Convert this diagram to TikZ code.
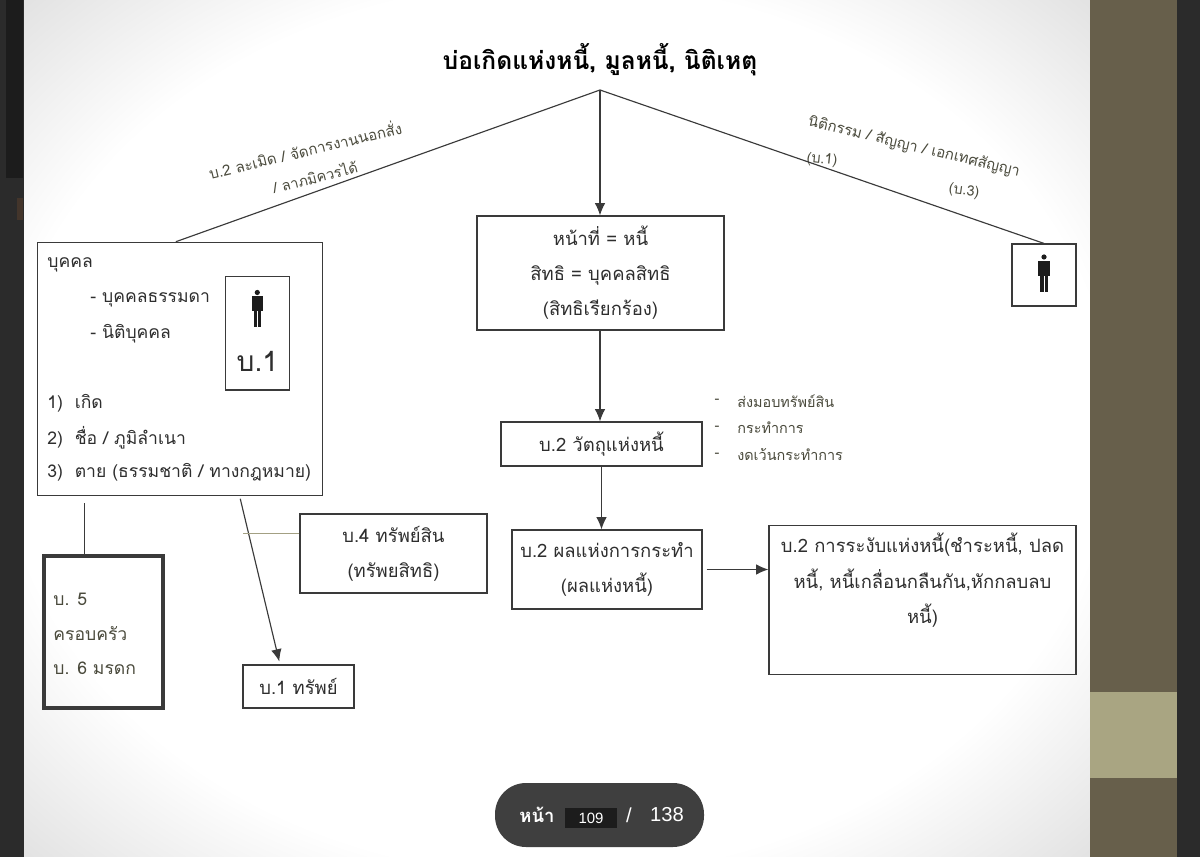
\documentclass[tikz,border=0pt]{standalone}
\usepackage{fontspec}
\setmainfont[Script=Thai]{Loma}
\newfontfamily\uifont{Liberation Sans}
\usetikzlibrary{positioning, arrows.meta}

\definecolor{inkc}{HTML}{2E2E2E}
\definecolor{softc}{HTML}{4A4A3C}
\definecolor{linec}{HTML}{3A3A3A}
\definecolor{darkc}{HTML}{2B2B2B}
\definecolor{stripc}{HTML}{1C1C1C}
\definecolor{spotc}{HTML}{43352B}
\definecolor{bandc}{HTML}{675F4B}
\definecolor{bandlight}{HTML}{A9A582}
\definecolor{olivec}{HTML}{A3A083}
\definecolor{pillc}{HTML}{3F3F3F}

\pgfdeclareradialshading{pagelight}{\pgfpoint{0bp}{0bp}}{color(0bp)=(white); color(26bp)=(white); color(36bp)=(black!12); color(50bp)=(black!12)}

\newcommand{\px}{0.02cm}

\tikzset{
	box/.style={draw=linec, line width=0.65pt, inner sep=0pt, align=center, text=inkc, font=\fontsize{10.5}{20}\selectfont},
	txt/.style={anchor=west, inner sep=0pt, text=inkc, font=\fontsize{10}{20}\selectfont},
	side/.style={anchor=center, inner sep=0pt, text=softc, font=\fontsize{8.2}{14}\selectfont},
	link/.style={draw=linec, line width=0.65pt},
	arrow/.style={link, -{Latex[length=7pt,width=6pt]}},
	person/.pic={
		\fill[stripc] (0,-17) circle (2.6);
		\fill[stripc] (-5.8,-13) rectangle (5.8,2);
		\fill[stripc] (-3.6,2) rectangle (-0.5,18);
		\fill[stripc] (0.5,2) rectangle (3.6,18);
	}
}

\begin{document}
\begin{tikzpicture}[x=\px, y=-\px]
	\useasboundingbox (0,0) rectangle (1200,857);

	%% page and viewer
	\fill[darkc] (0,0) rectangle (1200,857);
	\fill[stripc] (6,0) rectangle (23,178);
	\fill[spotc] (17,198) rectangle (23,220);
	\shade[shading=pagelight] (24,0) rectangle (1090,857);
	\fill[bandc] (1090,0) rectangle (1177,857);
	\fill[bandlight] (1090,692) rectangle (1177,778);

	%% title
	\node[inner sep=0pt, text=black, font=\fontsize{14}{16}\selectfont\bfseries] (title) at (600,60) {บ่อเกิดแห่งหนี้, มูลหนี้, นิติเหตุ};
	\coordinate (apex) at (600,90);

	%% left column
	\node[box, minimum width=285*\px, minimum height=253*\px] (personbox) at (180.3,368.8) {};
	\node[box, minimum width=64*\px, minimum height=113.5*\px] (b1box) at (257.3,333.3) {};
	\pic at (257.3,309.5) {person};
	\node[inner sep=0pt, text=inkc, font=\fontsize{16}{18}\selectfont] (b1label) at (257.3,361) {บ.1};
	\node[txt] (l1) at (47,265) {บุคคล};
	\node[txt] (l2) at (90,300) {- บุคคลธรรมดา};
	\node[txt] (l3) at (90,334) {- นิติบุคคล};
	\node[txt] (l4) at (47,403) {1)\ \ เกิด};
	\node[txt] (l5) at (47,438) {2)\ \ ชื่อ / ภูมิลำเนา};
	\node[txt] (l6) at (47,472) {3)\ \ ตาย (ธรรมชาติ / ทางกฎหมาย)};

	\node[box, line width=2pt, minimum width=119*\px, minimum height=152*\px] (family) at (103.5,632) {};
	\node[txt, text=softc] (f1) at (53,599) {บ. 5};
	\node[txt, text=softc] (f2) at (53,634) {ครอบครัว};
	\node[txt, text=softc] (f3) at (53,668) {บ. 6 มรดก};

	\node[box, minimum width=187*\px, minimum height=79*\px] (asset) at (393.5,553.5) {บ.4 ทรัพย์สิน\\(ทรัพยสิทธิ)};
	\node[box, minimum width=111*\px, minimum height=43*\px] (thing) at (298.5,686.5) {บ.1 ทรัพย์};
	\coordinate (assetend) at (243,534);

	%% middle column
	\node[box, minimum width=247*\px, minimum height=114*\px] (duty) at (600.5,273) {หน้าที่ = หนี้\\สิทธิ = บุคคลสิทธิ\\(สิทธิเรียกร้อง)};
	\node[box, minimum width=201*\px, minimum height=44*\px] (object) at (601.5,444) {บ.2 วัตถุแห่งหนี้};
	\node[box, minimum width=190*\px, minimum height=79*\px] (result) at (607,569.5) {บ.2 ผลแห่งการกระทำ\\(ผลแห่งหนี้)};
	\node[box, minimum width=307*\px, minimum height=149*\px, anchor=north] (stop) at (922.5,525) {};
	\node[inner sep=0pt, align=center, text=inkc, font=\fontsize{10.5}{20}\selectfont, anchor=north] (stoptext) at (922.5,533) {บ.2 การระงับแห่งหนี้(ชำระหนี้, ปลด\\หนี้, หนี้เกลื่อนกลืนกัน,หักกลบลบ\\หนี้)};

	\node[side] (d1) at (717,401) {-};
	\node[side] (d2) at (717,428) {-};
	\node[side] (d3) at (717,455) {-};
	\node[side, anchor=west] (s1) at (737,401) {ส่งมอบทรัพย์สิน};
	\node[side, anchor=west] (s2) at (737,428) {กระทำการ};
	\node[side, anchor=west] (s3) at (737,455) {งดเว้นกระทำการ};

	%% right box
	\node[box, minimum width=64*\px, minimum height=62*\px] (otherbox) at (1044,275) {};
	\pic at (1044,274) {person};

	%% labels on the branches
	\node[side, rotate=13.5, font=\fontsize{8.5}{14}\selectfont] (e1) at (305,149) {บ.2 ละเมิด / จัดการงานนอกสั่ง};
	\node[side, rotate=14] (e2) at (315,177) {/ ลาภมิควรได้};
	\node[side, rotate=-13.5, font=\fontsize{8.5}{14}\selectfont] (c1) at (914,147) {นิติกรรม / สัญญา / เอกเทศสัญญา};
	\node[side, rotate=-6] (c2) at (822,160) {(บ.1)};
	\node[side, rotate=-8] (c3) at (964,191) {(บ.3)};

	%% connectors
	\draw[link] (apex) -- (personbox.92);
	\draw[link] (apex) -- (otherbox.north);
	\draw[arrow] (apex) -- (duty.north -| apex);
	\draw[arrow] (duty.south -| apex) -- (object.north -| apex);
	\draw[arrow] (object.south) -- (object.south |- result.north);
	\draw[arrow, shorten <=4*\px] (result.east) -- (result.east -| stop.west);
	\draw[link, shorten >=7*\px] (family.104) -- (family.104 |- personbox.south);
	\draw[arrow, shorten <=3*\px, shorten >=3*\px] (personbox.-65) -- (thing.130);
	\draw[draw=olivec, line width=0.65pt] (asset.168) -- (asset.168 -| assetend);

	%% page counter
	\node[fill=pillc, rounded corners=31*\px, minimum width=209*\px, minimum height=64*\px, inner sep=0pt] (pill) at (599.5,815) {};
	\node[fill=stripc, minimum width=52*\px, minimum height=20*\px, inner sep=0pt, text=white, font=\uifont\fontsize{8.5}{10}\selectfont] (pageno) at (591,818) {109};
	\node[inner sep=0pt, text=white, font=\fontsize{10.5}{12}\selectfont\bfseries] (pageword) at (537,815) {หน้า};
	\node[inner sep=0pt, text=white, font=\uifont\fontsize{11.5}{12}\selectfont] (slash) at (629,815) {/};
	\node[inner sep=0pt, text=white, font=\uifont\fontsize{11.5}{12}\selectfont] (pagetotal) at (667,815) {138};
\end{tikzpicture}
\end{document}
